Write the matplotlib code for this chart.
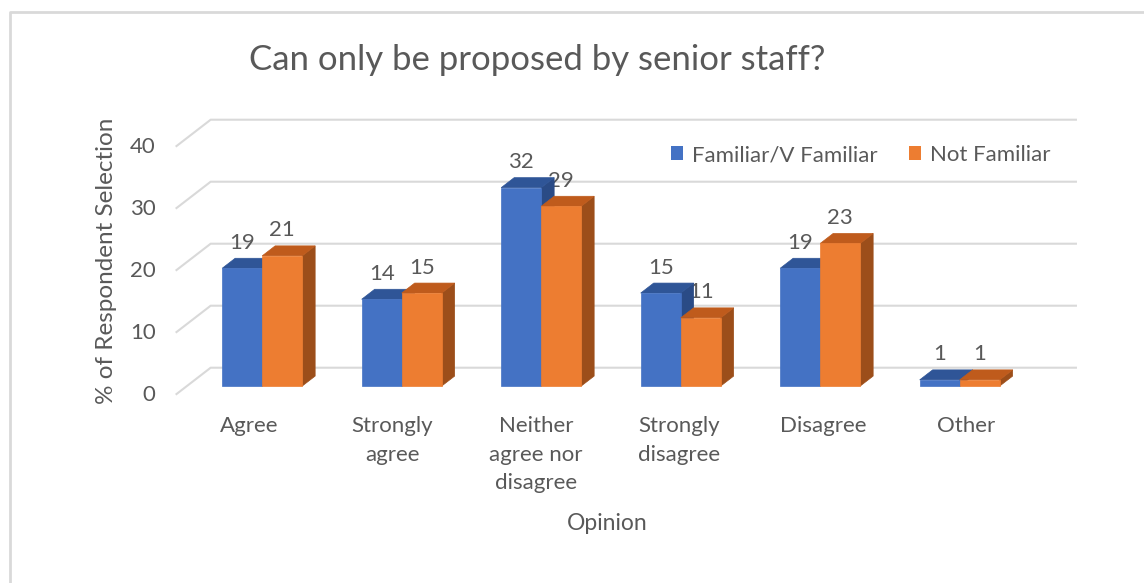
import matplotlib
matplotlib.use("Agg")
import matplotlib.pyplot as plt
from matplotlib.patches import Polygon, Patch
from matplotlib.lines import Line2D

# Survey data
categories = ["Agree", "Strongly\nagree", "Neither\nagree nor\ndisagree",
              "Strongly\ndisagree", "Disagree", "Other"]
familiar = [19, 14, 32, 15, 19, 1]
not_familiar = [21, 15, 29, 11, 23, 1]
series_names = ["Familiar/V Familiar", "Not Familiar"]
y_ticks = [0, 10, 20, 30, 40]

# colours: front, top, side
blue = ("#4472C4", "#2F5597", "#2A4B86")
orange = ("#ED7D31", "#BF5B1C", "#9C4E1A")
grid_col = "#D9D9D9"
text_col = "#595959"

plt.rcParams["font.family"] = ["Lato", "DejaVu Sans"]

W_PX, H_PX = 1144, 583
fig = plt.figure(figsize=(W_PX / 100, H_PX / 100), dpi=100)
ax = fig.add_axes([0, 0, 1, 1])
# one x unit = one category step, y in percent
X0_PX, STEP_PX = 251, 139.5
Y0_PX, UNIT_PX = 394.7, 6.2
ax.set_xlim(-X0_PX / STEP_PX, (W_PX - X0_PX) / STEP_PX)
ax.set_ylim((Y0_PX - H_PX) / UNIT_PX, Y0_PX / UNIT_PX)
ax.axis("off")

# oblique depth: z=0 front of floor, z=1 back wall
DX = 35 / STEP_PX
DY = 27 / UNIT_PX
Z_FRONT, Z_BACK = 0.32, 0.69
BAR_W = 40 / STEP_PX
FLOOR_L, FLOOR_R = -0.54, 5.67


def proj(x, v, z):
    return (x + DX * z, v + DY * z)


# back wall gridlines and side wall diagonals
for t in y_ticks:
    xs, ys = zip(proj(FLOOR_L, t, 0), proj(FLOOR_L, t, 1), proj(FLOOR_R, t, 1))
    ax.plot(xs, ys, color=grid_col, lw=1.5, zorder=1, solid_capstyle="butt")
    ax.text(FLOOR_L - 20 / STEP_PX, t, str(t), ha="right", va="center",
            fontsize=16, color=text_col)


def bar3d(x0, x1, v, cols):
    front = [proj(x0, 0, Z_FRONT), proj(x1, 0, Z_FRONT),
             proj(x1, v, Z_FRONT), proj(x0, v, Z_FRONT)]
    top = [proj(x0, v, Z_FRONT), proj(x1, v, Z_FRONT),
           proj(x1, v, Z_BACK), proj(x0, v, Z_BACK)]
    side = [proj(x1, 0, Z_FRONT), proj(x1, 0, Z_BACK),
            proj(x1, v, Z_BACK), proj(x1, v, Z_FRONT)]
    for pts, c in ((side, cols[2]), (top, cols[1]), (front, cols[0])):
        ax.add_patch(Polygon(pts, closed=True, facecolor=c, edgecolor=c,
                             lw=0.5, zorder=2))
    # value label sits behind the bars
    cx = (x0 + x1) / 2 + DX * Z_FRONT
    ax.text(cx, v + DY * Z_BACK + 2.5, str(v), ha="center", va="center",
            fontsize=16, color=text_col, zorder=1.5)


for i in range(len(categories)):
    bar3d(i - BAR_W, i, familiar[i], blue)
    bar3d(i, i + BAR_W, not_familiar[i], orange)

# category labels along the front of the floor
LABEL_STEP = 143.5 / STEP_PX
for i, lab in enumerate(categories):
    ax.text(i * LABEL_STEP - 0.014, -3.4, lab, ha="center", va="top",
            fontsize=16, color=text_col, linespacing=1.55)

fig.text(537 / W_PX, 1 - 60 / H_PX, "Can only be proposed by senior staff?",
         ha="center", va="center", fontsize=25, color=text_col)
fig.text(107 / W_PX, 1 - 261 / H_PX, "% of Respondent Selection",
         rotation=90, ha="center", va="center", fontsize=17.5, color=text_col)
fig.text(607 / W_PX, 1 - 523 / H_PX, "Opinion", ha="center", va="center",
         fontsize=16.5, color=text_col)

handles = [Patch(facecolor=blue[0]), Patch(facecolor=orange[0])]
leg = fig.legend(handles, series_names, loc="center", ncol=2, frameon=False,
                 bbox_to_anchor=(861 / W_PX, 1 - 155 / H_PX),
                 handlelength=0.55, handleheight=0.55, handletextpad=0.4,
                 columnspacing=1.4, fontsize=16)
for t in leg.get_texts():
    t.set_color(text_col)

# chart area border (left and top edges visible)
fig.add_artist(Line2D([9.5 / W_PX, 9.5 / W_PX, 1], [0, 1 - 12 / H_PX, 1 - 12 / H_PX],
                      transform=fig.transFigure, color="#D9D9D9", lw=2))

fig.savefig("out.png", dpi=100)
